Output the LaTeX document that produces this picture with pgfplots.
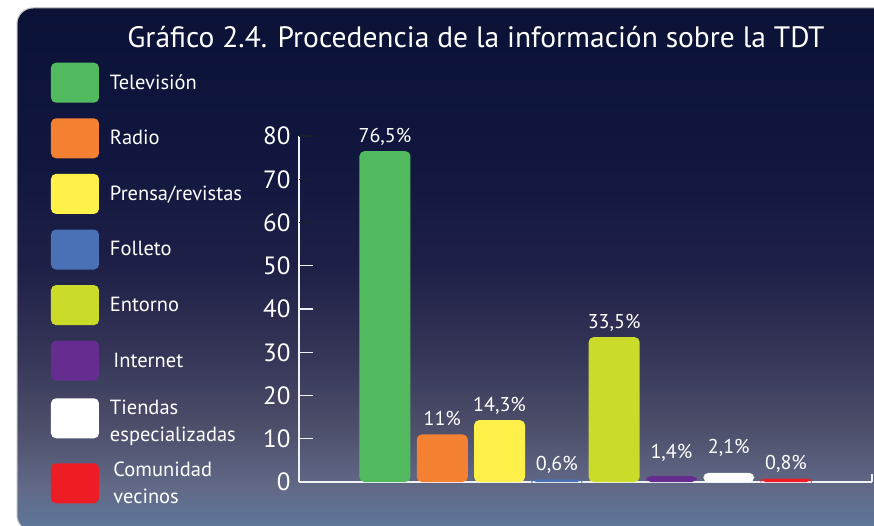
\documentclass[border=0pt]{standalone}
\usepackage{pgfplots}
\pgfplotsset{compat=1.18}
\usepackage{fontspec}
\setmainfont{PT Sans}

\definecolor{cTV}{HTML}{52BA5E}
\definecolor{cRadio}{HTML}{F48132}
\definecolor{cPrensa}{HTML}{FFF04A}
\definecolor{cFolleto}{HTML}{4A70B5}
\definecolor{cEntorno}{HTML}{CADB2A}
\definecolor{cInternet}{HTML}{662D91}
\definecolor{cTiendas}{HTML}{FFFFFF}
\definecolor{cVecinos}{HTML}{EE1C25}
\definecolor{axwhite}{HTML}{F0F1F5}
\definecolor{darktick}{HTML}{1E1E28}

\pgfdeclareverticalshading{panelbg}{100bp}{%
 rgb(0bp)=(0.365,0.467,0.600);
 rgb(25bp)=(0.365,0.467,0.600);
 rgb(29bp)=(0.384,0.416,0.533);
 rgb(35bp)=(0.298,0.306,0.416);
 rgb(42.8bp)=(0.196,0.200,0.333);
 rgb(50.5bp)=(0.118,0.122,0.275);
 rgb(61.2bp)=(0.063,0.086,0.243);
 rgb(75bp)=(0.043,0.071,0.212);
 rgb(100bp)=(0.043,0.071,0.212)}

\begin{document}
\begin{tikzpicture}
\path[use as bounding box, fill=white] (0pt,0pt) rectangle (874pt,525pt);
\begin{scope}
\clip (0pt,0pt) rectangle (874pt,525pt);
\shade[shading=panelbg, rounded corners=16pt, draw=gray!55, line width=1pt]
  (17pt,-6pt) rectangle (892pt,517pt);
\end{scope}
\node[anchor=base, text=white, font=\fontsize{29.5}{34}\selectfont, inner sep=0pt]
  at (476pt,477.3pt) {Gráfico 2.4. Procedencia de la información sobre la TDT};

\begin{axis}[
  at={(299pt,43pt)}, anchor=south west,
  scale only axis, width=573pt, height=346pt,
  xmin=-1.5, xmax=8.5, ymin=0, ymax=80,
  ybar, bar width=51pt, bar shift=0pt,
  axis x line*=bottom, axis y line*=left,
  axis line style={axwhite, line width=1.6pt},
  xtick=\empty,
  extra x ticks={8.5}, extra x tick labels={},
  extra x tick style={major tick length=8pt, tick align=inside,
     tick style={axwhite, line width=1.2pt}},
  ytick={0,10,20,30,40,50},
  extra y ticks={60,70,80},
  extra y tick style={tick style={darktick, line width=1.2pt}},
  ytick align=inside, major tick length=14pt,
  tick style={axwhite, line width=1.2pt},
  /pgf/number format/assume math mode=true,
  yticklabel style={text=white, font=\fontsize{25}{30}\selectfont, xshift=-5pt},
  nodes near coords,
  point meta=explicit symbolic,
  nodes near coords style={text=white, font=\fontsize{20}{24}\selectfont, anchor=base, yshift=9pt, inner sep=0pt},
  every axis plot/.append style={draw=none, rounded corners=5pt},
  legend cell align=left,
  legend style={at={(-0.43281,1.21185)}, anchor=north west, draw=none, fill=none,
     inner sep=0pt, outer sep=0pt, row sep=15.6pt, column sep=11pt,
     text=white, font=\fontsize{20.5}{26.7}\selectfont,
     nodes={inner sep=0pt, align=left}},
  lg/.style={legend image code/.code={\fill[##1, rounded corners=5pt] (0pt,-20pt) rectangle (48pt,20pt);}},
  lgt/.style={legend image code/.code={\path (0pt,25pt); \fill[##1, rounded corners=5pt] (0pt,-17pt) rectangle (48pt,23pt);}},
  lgc/.style={legend image code/.code={\path (0pt,25pt); \fill[##1, rounded corners=5pt] (0pt,-20pt) rectangle (48pt,20pt);}},
]
\addplot[fill=cTV, lg] coordinates {(0,76.5) [76,5\%]};
\addlegendentry{Televisión}
\addplot[fill=cRadio, lg] coordinates {(1,11) [11\%]};
\addlegendentry{Radio}
\addplot[fill=cPrensa, lg] coordinates {(2,14.3) [14,3\%]};
\addlegendentry{Prensa/revistas}
\addplot[fill=cFolleto, lg] coordinates {(3,0.6) [0,6\%]};
\addlegendentry{Folleto}
\addplot[fill=cEntorno, lg] coordinates {(4,33.5) [33,5\%]};
\addlegendentry{Entorno}
\addplot[fill=cInternet, lg] coordinates {(5,1.4) [\raisebox{8pt}{1,4\%}]};
\addlegendentry{\,Internet}
\addplot[fill=cTiendas, lgt] coordinates {(6,2.1) [\raisebox{10pt}{2,1\%}]};
\addlegendentry{Tiendas\\especializadas}
\addplot[fill=cVecinos, lgc] coordinates {(7,0.8) [0,8\%]};
\addlegendentry{\,Comunidad\\\,vecinos}
\end{axis}
\end{tikzpicture}
\end{document}
